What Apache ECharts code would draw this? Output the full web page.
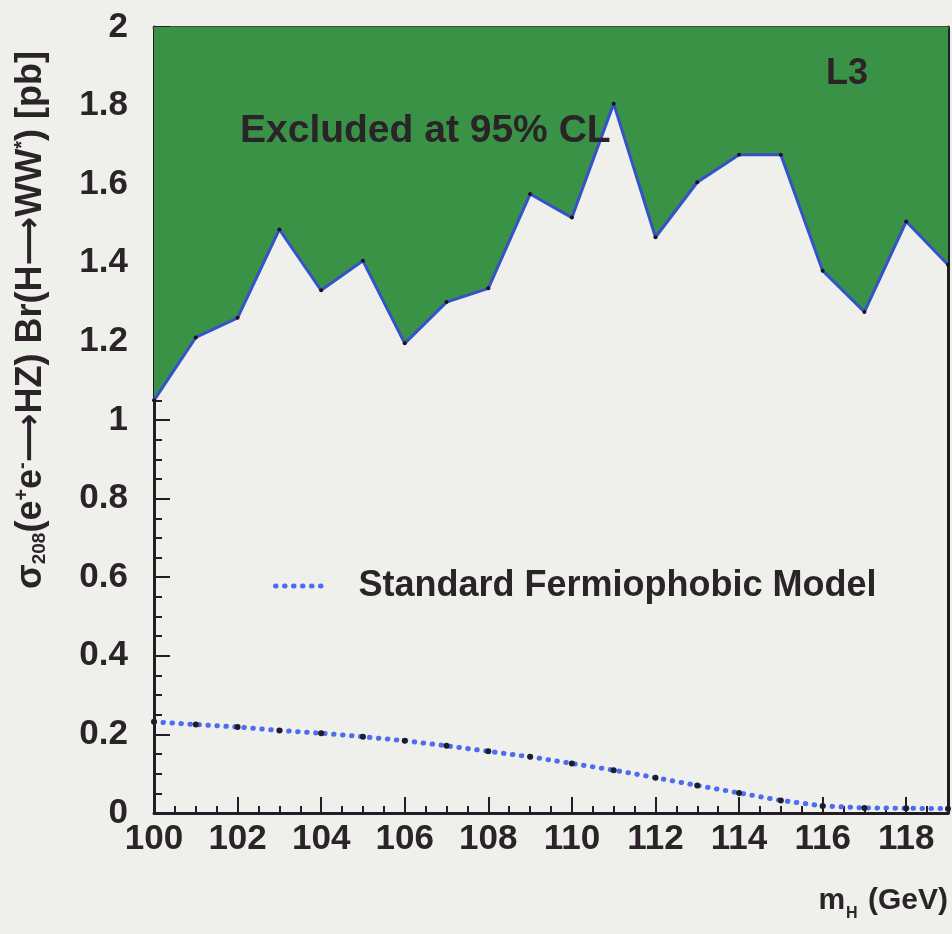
<!DOCTYPE html>
<html>
<head>
<meta charset="utf-8">
<script src="https://cdn.jsdelivr.net/npm/echarts@6/dist/echarts.min.js"></script>
<style>
  html, body { margin: 0; padding: 0; background: #efefeb; }
  #chart { width: 952px; height: 934px; }
</style>
</head>
<body>
<div id="chart"></div>
<script>
// Higgs mass points (GeV)
const massGeV = [100, 101, 102, 103, 104, 105, 106, 107, 108, 109, 110,
                 111, 112, 113, 114, 115, 116, 117, 118, 119];
// 95% CL upper limit on sigma x BR (pb)
const limitPb = [1.05, 1.21, 1.26, 1.485, 1.33, 1.405, 1.195, 1.30, 1.335, 1.575, 1.515,
                 1.805, 1.465, 1.605, 1.675, 1.675, 1.38, 1.275, 1.505, 1.395];
// Standard fermiophobic model prediction (pb)
const fermiophobicPb = [0.232, 0.225, 0.219, 0.210, 0.203, 0.194, 0.184, 0.171, 0.157, 0.143, 0.126,
                        0.109, 0.090, 0.070, 0.051, 0.032, 0.018, 0.013, 0.012, 0.011];

const FONT = '"Liberation Sans", Arial, Helvetica, sans-serif';
const INK = '#2a2428';
const GREEN = '#3a9247';
const DOTS = { width: 5, type: [0.5, 8.5], cap: 'round' };

const pairs = (xs, ys) => xs.map((x, i) => [x, ys[i]]);

const chart = echarts.init(document.getElementById('chart'), null, { renderer: 'canvas' });

chart.setOption({
  backgroundColor: '#efefeb',
  animation: false,
  grid: { left: 154, right: 4, top: 27, bottom: 121 },
  legend: {
    left: 268, top: 563,
    itemWidth: 50, itemHeight: 20,
    itemStyle: { opacity: 0 },
    lineStyle: DOTS,
    textStyle: { fontFamily: FONT, fontWeight: 'bold', fontSize: 36, color: INK, padding: [0, 0, 0, 28] },
    data: [{ name: 'Standard Fermiophobic Model' }]
  },
  xAxis: [{
    type: 'value', min: 100, max: 119, interval: 2,
    axisLine: { show: true, onZero: false, lineStyle: { color: '#231c24', width: 3 } },
    axisTick: { show: true, inside: true, length: 16, lineStyle: { color: '#231c24', width: 2 } },
    minorTick: { show: true, splitNumber: 4, length: 7, lineStyle: { color: '#231c24', width: 2 } },
    splitLine: { show: false },
    axisLabel: { showMaxLabel: false, margin: 9, fontFamily: FONT, fontWeight: 'bold', fontSize: 35, color: INK }
  }, {
    type: 'value', min: 100, max: 119, position: 'top',
    axisLine: { show: true, onZero: false, lineStyle: { color: '#4a4448', width: 3 } },
    axisTick: { show: false }, axisLabel: { show: false }, splitLine: { show: false }
  }],
  yAxis: [{
    type: 'value', min: 0, max: 2, interval: 0.2,
    axisLine: { show: true, onZero: false, lineStyle: { color: '#231c24', width: 3 } },
    axisTick: { show: true, inside: true, length: 16, lineStyle: { color: '#231c24', width: 2 } },
    minorTick: { show: true, splitNumber: 4, length: 8, lineStyle: { color: '#231c24', width: 2 } },
    splitLine: { show: false },
    axisLabel: { margin: 26, fontFamily: FONT, fontWeight: 'bold', fontSize: 35, color: INK }
  }, {
    type: 'value', min: 0, max: 2, position: 'right',
    axisLine: { show: true, onZero: false, lineStyle: { color: '#231c24', width: 3 } },
    axisTick: { show: false }, axisLabel: { show: false }, splitLine: { show: false }
  }],
  series: [{
    name: 'Excluded',
    type: 'line',
    data: pairs(massGeV, limitPb),
    symbol: 'circle', symbolSize: 4,
    itemStyle: { color: '#14141e' },
    lineStyle: { color: '#3552c8', width: 3 },
    areaStyle: { origin: 'end', color: GREEN, opacity: 1 },
    z: 3
  }, {
    name: 'Standard Fermiophobic Model',
    type: 'line',
    data: pairs(massGeV, fermiophobicPb),
    symbol: 'circle', symbolSize: 6,
    itemStyle: { color: '#1c1c2c' },
    lineStyle: Object.assign({ color: '#4d6cf0' }, DOTS),
    z: 4
  }],
  graphic: [{
    type: 'text', left: 240, top: 112, z: 10,
    style: { text: 'Excluded at 95% CL', fontFamily: FONT, fontWeight: 'bold', fontSize: 39, fill: INK }
  }, {
    type: 'text', left: 826, top: 56, z: 10,
    style: { text: 'L3', fontFamily: FONT, fontWeight: 'bold', fontSize: 36, fill: INK }
  }, {
    type: 'text', right: 4, top: 886, z: 10,
    style: {
      text: '{b|m}{s|H}{b| (GeV)}',
      rich: {
        b: { fontFamily: FONT, fontWeight: 'bold', fontSize: 30, fill: INK, verticalAlign: 'bottom' },
        s: { fontFamily: FONT, fontWeight: 'bold', fontSize: 16, fill: INK, verticalAlign: 'bottom', padding: [0, 2, -6, 1] }
      }
    }
  }, {
    type: 'text', x: 31, y: 320, rotation: Math.PI / 2, z: 10,
    style: {
      text: '{b|σ}{s|208}{b|(e}{p|+}{b|e}{p|-}{a|⟶}{b|HZ) Br(H}{a|⟶}{b|WW}{p|*}{b|) [pb]}',
      align: 'center', verticalAlign: 'middle',
      rich: {
        b: { fontFamily: FONT, fontWeight: 'bold', fontSize: 36, fill: INK },
        a: { fontFamily: '"DejaVu Sans", sans-serif', fontWeight: 'bold', fontSize: 34, fill: INK },
        s: { fontFamily: FONT, fontWeight: 'bold', fontSize: 19, fill: INK, padding: [18, 0, 0, 0] },
        p: { fontFamily: FONT, fontWeight: 'bold', fontSize: 20, fill: INK, padding: [0, 0, 18, 0] }
      }
    }
  }]
});
</script>
</body>
</html>
